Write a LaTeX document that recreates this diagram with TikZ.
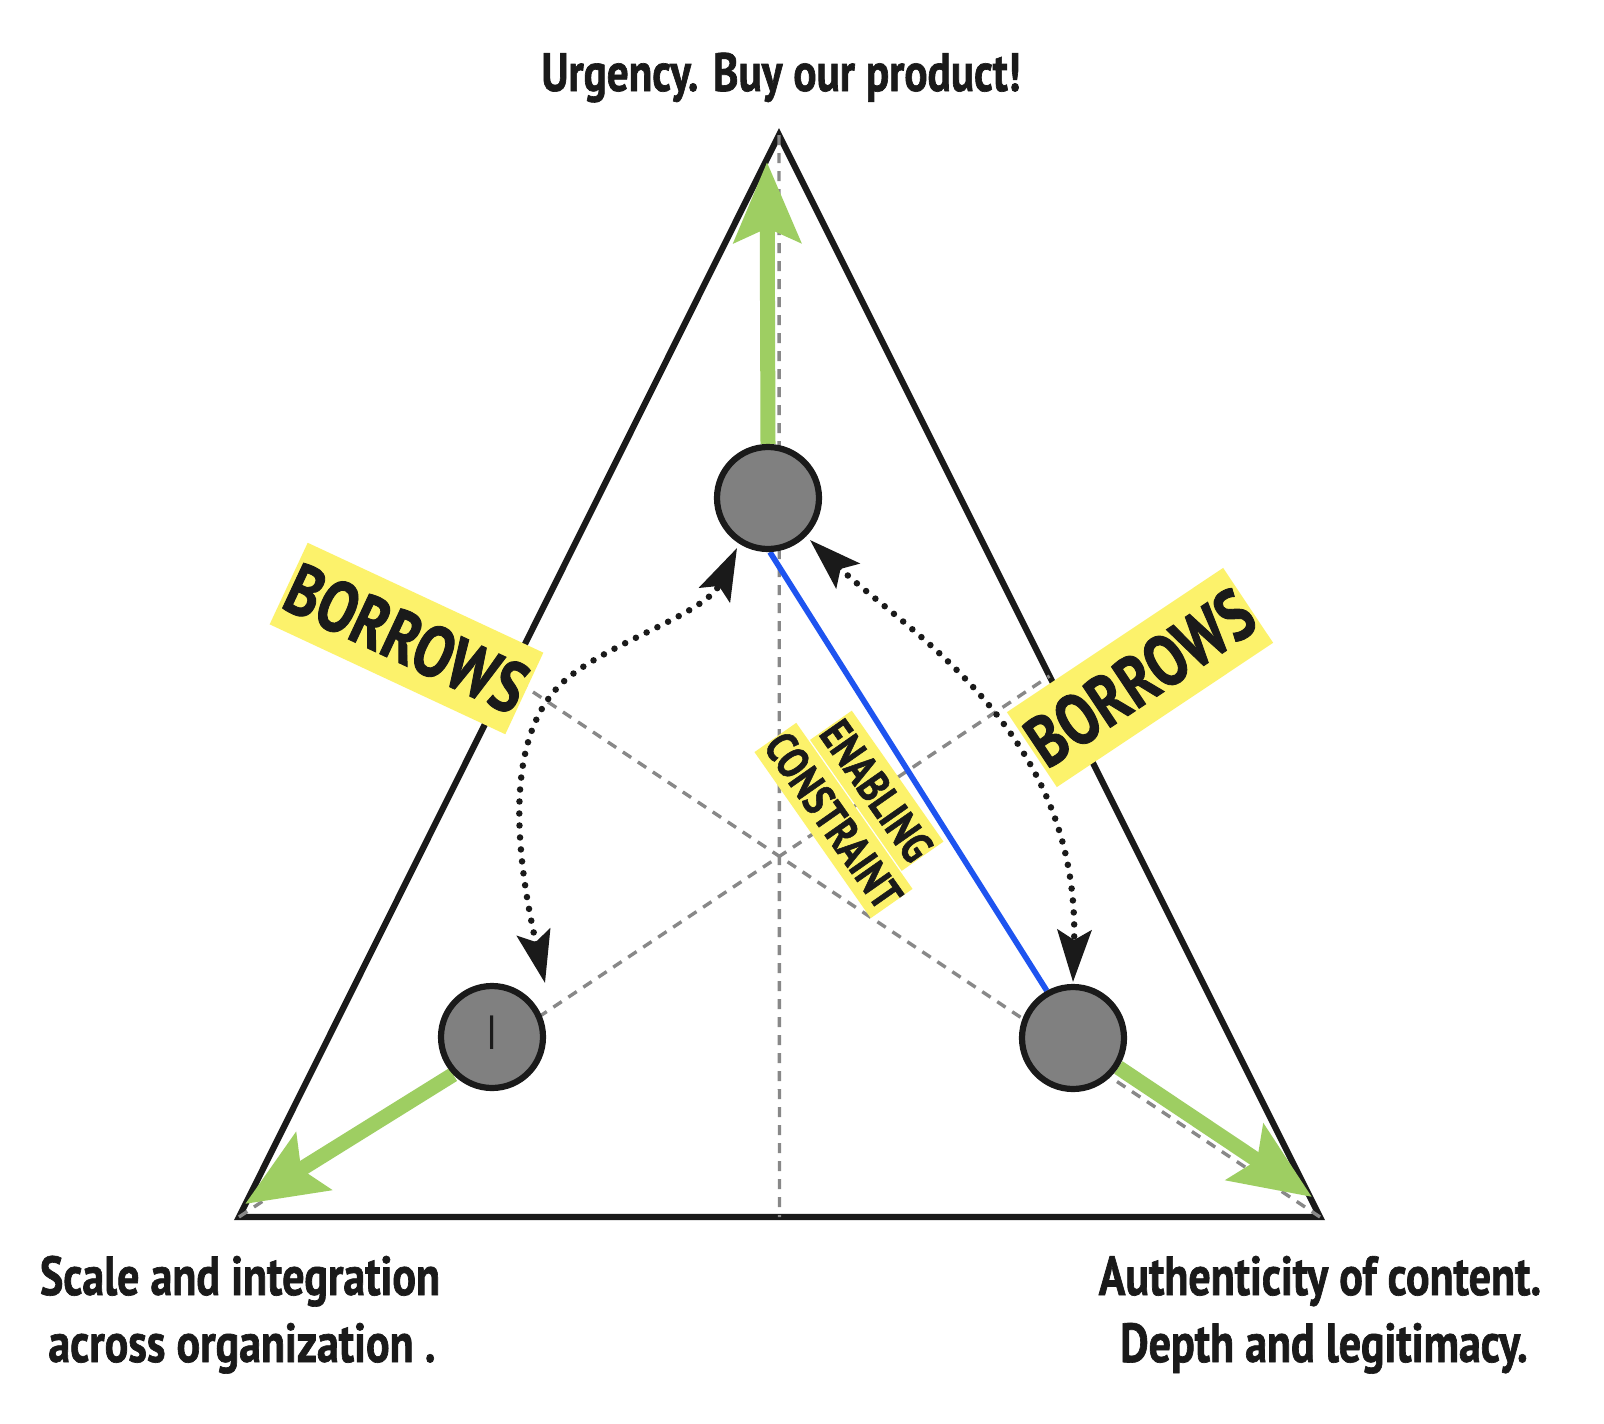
\documentclass[tikz,border=0pt]{standalone}
\usepackage{fontspec}
\newfontfamily\lab[FakeStretch=0.8, BoldFeatures={FakeBold=1.2}]{PT Sans}
\usetikzlibrary{arrows.meta,calc}
\pgfdeclarelayer{bg}
\pgfsetlayers{bg,main}
\definecolor{ink}{RGB}{26,26,26}
\definecolor{midgray}{RGB}{136,136,136}
\definecolor{pgray}{RGB}{128,128,128}
\definecolor{leaf}{RGB}{158,206,98}
\definecolor{hl}{RGB}{252,242,107}
\definecolor{linkblue}{RGB}{30,84,240}
\begin{document}
\begin{tikzpicture}[x=1pt,y=-1pt,
  tri/.style={draw=ink, line width=6.2pt, line join=miter},
  median/.style={draw=midgray, line width=3.4pt, dash pattern=on 10pt off 8pt},
  greenarrow/.style={draw=leaf, line width=15pt, -{Stealth[length=80pt,width=66pt,inset=14pt]}},
  link/.style={draw=linkblue, line width=5.6pt},
  pole/.style={circle, draw=ink, fill=pgray, line width=6.2pt, minimum size=102pt, inner sep=0pt},
  dotarrow/.style={draw=ink, line width=6.5pt, line cap=round, dash pattern=on 0pt off 12pt,
     {Stealth[length=52pt,width=34pt,inset=10pt]}-{Stealth[length=52pt,width=34pt,inset=10pt]}},
  tag/.style={fill=hl, text=ink, inner sep=0pt},
  bigtag/.style={tag, minimum width=260pt, minimum height=90pt, font=\lab\bfseries\fontsize{72}{72}\selectfont},
  smalltag/.style={tag, minimum height=51pt, rotate=-55, font=\lab\bfseries\fontsize{45}{45}\selectfont},
  lbl/.style={text=ink, inner sep=0pt, anchor=base, font=\lab\bfseries\fontsize{55}{55}\selectfont}
]
\useasboundingbox (0,0) rectangle (1604,1424);

% vertices
\coordinate (vT) at (779,135);
\coordinate (vL) at (239,1217);
\coordinate (vR) at (1320,1217);

% poles
\node[pole] (pU) at (768,498) {};
\node[pole] (pS) at (492,1037) {};
\node[pole] (pA) at (1073,1038) {};
\node[text=ink, inner sep=0pt, anchor=base, font=\lab\fontsize{48}{48}\selectfont] (iS) at (492,1049) {I};

% arrow tips
\coordinate (gT) at (767,162);
\coordinate (gL) at (245,1204);
\coordinate (gR) at (1312,1197);

\begin{pgfonlayer}{bg}
  \fill[white] (0,0) rectangle (1604,1424);
  \draw[tri] (vT) -- (vL) -- (vR) -- cycle;
  \draw[median] (vT) -- ($(vL)!0.5!(vR)$);
  \draw[median] (vL) -- ($(vR)!0.5!(vT)$);
  \draw[median] (vR) -- ($(vL)!0.5!(vT)$);
  \draw[greenarrow] (pU.north) -- (gT);
  \draw[greenarrow] (pS.224) -- (gL);
  \draw[greenarrow] (pA.-33) -- (gR);
  \draw[link] (pU.-88) -- (pA.119);
\end{pgfonlayer}

% dotted borrow arrows
\coordinate (dS) at (545,983);
\coordinate (dU1) at (737,548);
\coordinate (dU2) at (810,540);
\coordinate (dA) at (1073,982);
\draw[dotarrow] (dS) .. controls (515,850) and (505,740) .. (560,685)
   .. controls (600,645) and (705,615) .. (dU1);
\draw[dotarrow] (dU2) .. controls (905,630) and (1080,730) .. (dA);

% labels
\node[bigtag, rotate=-25] (bw1) at (406.5,638.5) {BORROWS};
\node[bigtag, rotate=33.7] (bw2) at (1140,677.5) {BORROWS};
\node[smalltag, minimum width=189pt] (co) at (833.5,820.5) {CONSTRAINT};
\node[smalltag, minimum width=151pt] (en) at (876.75,790.75) {ENABLING};

\node[lbl, font=\lab\bfseries\fontsize{54}{54}\selectfont] (tU) at (781,91) {Urgency. Buy our product!};
\node[lbl] (tS1) at (240,1295) {Scale and integration};
\node[lbl] (tS2) at (242,1362) {across organization .};
\node[lbl] (tA1) at (1320,1295) {Authenticity of content.};
\node[lbl] (tA2) at (1324,1362) {Depth and legitimacy.};
\end{tikzpicture}
\end{document}
